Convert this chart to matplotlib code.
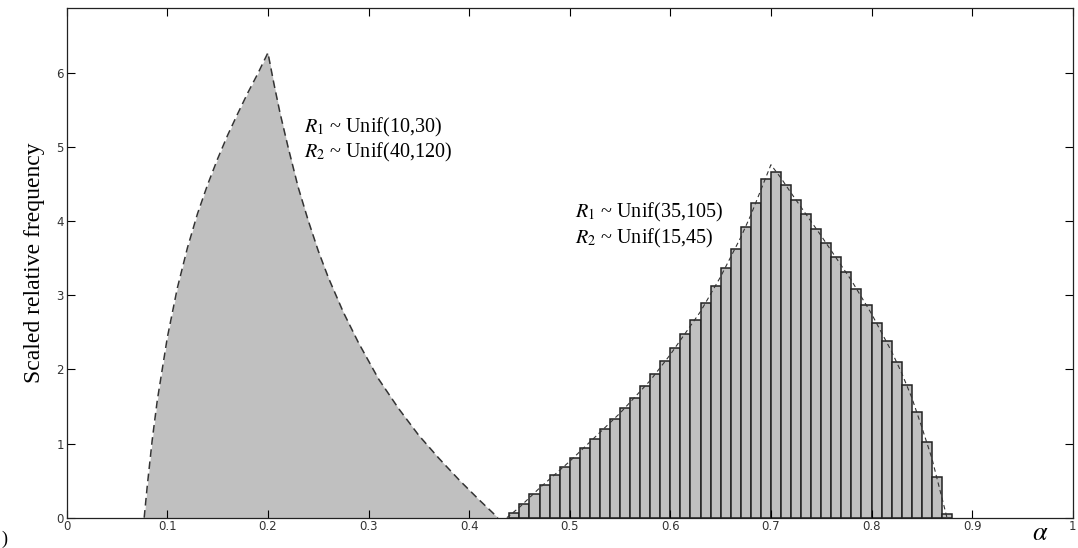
import matplotlib
matplotlib.use("Agg")
import matplotlib.pyplot as plt

plt.rcParams['mathtext.fontset'] = 'stix'

# left distribution: R1 ~ Unif(10,30), R2 ~ Unif(40,120), outline
left_x = [0.077, 0.080, 0.085, 0.090, 0.100, 0.110, 0.120, 0.130, 0.140, 0.150, 0.160,
          0.170, 0.180, 0.190, 0.200,
          0.206, 0.212, 0.220, 0.230, 0.240, 0.250, 0.260, 0.275, 0.290, 0.310,
          0.330, 0.350, 0.370, 0.390, 0.410, 0.4286]
left_y = [0.0, 0.42, 1.05, 1.58, 2.43, 3.10, 3.64, 4.10, 4.49, 4.84, 5.16,
          5.45, 5.73, 5.99, 6.27,
          5.85, 5.46, 5.00, 4.46, 4.01, 3.60, 3.24, 2.77, 2.36, 1.87,
          1.47, 1.11, 0.80, 0.51, 0.24, 0.0]

# right distribution: R1 ~ Unif(35,105), R2 ~ Unif(15,45), histogram bins of width 0.01
bin_left = [0.44 + 0.01 * i for i in range(44)]
bin_heights = [0.07, 0.19, 0.32, 0.44, 0.57, 0.69, 0.81, 0.94, 1.06, 1.20,
               1.33, 1.48, 1.62, 1.77, 1.94, 2.11, 2.29, 2.48, 2.67, 2.89,
               3.12, 3.37, 3.63, 3.92, 4.24, 4.57, 4.66, 4.48, 4.28, 4.09,
               3.90, 3.70, 3.51, 3.31, 3.09, 2.87, 2.63, 2.38, 2.10, 1.79,
               1.43, 1.02, 0.55, 0.05]
right_x = [0.4375, 0.45, 0.47, 0.50, 0.53, 0.55, 0.58, 0.60, 0.63, 0.65, 0.67, 0.68, 0.69, 0.700,
           0.71, 0.72, 0.75, 0.78, 0.80, 0.82, 0.83, 0.84, 0.85, 0.86, 0.875]
right_y = [0.0, 0.14, 0.40, 0.76, 1.15, 1.41, 1.85, 2.20, 2.78, 3.25, 3.78, 4.08, 4.42, 4.76,
           4.58, 4.38, 3.80, 3.20, 2.75, 2.24, 1.95, 1.62, 1.22, 0.80, 0.0]

labels_left = [r'$R_1$ ~ Unif(10,30)', r'$R_2$ ~ Unif(40,120)']
labels_right = [r'$R_1$ ~ Unif(35,105)', r'$R_2$ ~ Unif(15,45)']

x_ticks = [0, 0.1, 0.2, 0.3, 0.4, 0.5, 0.6, 0.7, 0.8, 0.9, 1]
x_ticklabels = ['0', '0.1', '0.2', '0.3', '0.4', '0.5', '0.6', '0.7', '0.8', '0.9', '1']
y_ticks = [0, 1, 2, 3, 4, 5, 6]

fig = plt.figure(figsize=(10.78, 5.48), dpi=100)
ax = fig.add_axes([0.0619, 0.0553, 0.9332, 0.9296])

gray = '#c0c0c0'
ax.fill_between(left_x, left_y, 0, color=gray, lw=0)
ax.plot(left_x, left_y, color='#333333', lw=1.1, ls=(0, (5, 3)))

ax.bar(bin_left, bin_heights, width=0.01, align='edge', color=gray,
       edgecolor='#222222', linewidth=1.1)
ax.plot(right_x, right_y, color='#333333', lw=0.8, ls=(0, (4, 3)))

serif = ['Liberation Serif', 'DejaVu Serif']
fs = 14.5
ax.text(0.236, 5.26, labels_left[0], family=serif, fontsize=fs, va='center')
ax.text(0.236, 4.92, labels_left[1], family=serif, fontsize=fs, va='center')
ax.text(0.505, 4.12, labels_right[0], family=serif, fontsize=fs, va='center')
ax.text(0.505, 3.77, labels_right[1], family=serif, fontsize=fs, va='center')

ax.set_xlim(0, 1)
ax.set_ylim(0, 6.87)
ax.set_xticks(x_ticks)
ax.set_xticklabels(x_ticklabels)
ax.set_yticks(y_ticks)
ax.tick_params(direction='in', length=6, width=0.8, top=True, right=True,
               labelsize=8.5, labelcolor='#333333', pad=2)
for sp in ax.spines.values():
    sp.set_linewidth(0.9)
    sp.set_color('#222222')

ax.set_ylabel('Scaled relative frequency', family=serif, fontsize=17, labelpad=8)
fig.text(0.965, 0.028, r'$\alpha$', fontsize=19, ha='center', va='center')
fig.text(0.001, 0.016, ')', family=serif, fontsize=13, va='center')

fig.savefig('out.png', dpi=100)
